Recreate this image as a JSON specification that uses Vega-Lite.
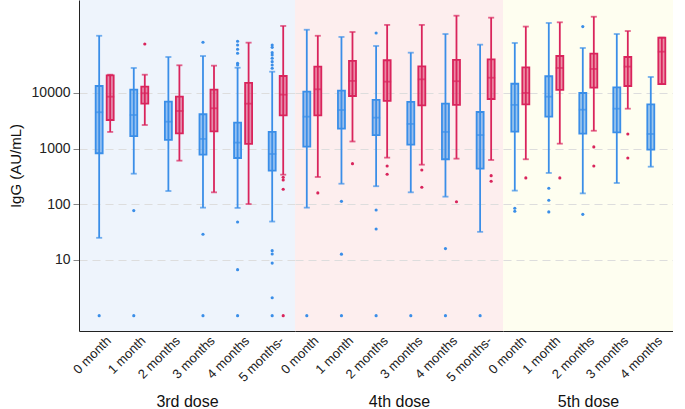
{
  "$schema": "https://vega.github.io/schema/vega-lite/v6.json",
  "padding": {"left": 8, "top": 0, "right": 0, "bottom": 0},
  "spacing": 0,
  "bounds": "flush",
  "config": {
    "font": "Liberation Sans",
    "view": {"stroke": null},
    "axis": {"labelFont": "Liberation Sans", "titleFont": "Liberation Sans", "labelColor": "#222222", "titleColor": "#111111", "titleFontWeight": "normal"}
  },
  "datasets": {
    "stats": [
      {"dose": "3rd dose", "month": "0 month", "group": "Group 1", "min": 25, "q1": 824, "median": 4490, "q3": 13300, "max": 106000},
      {"dose": "3rd dose", "month": "0 month", "group": "Group 2", "min": 1990, "q1": 3260, "median": 8550, "q3": 20700, "max": 21200},
      {"dose": "3rd dose", "month": "1 month", "group": "Group 1", "min": 354, "q1": 1680, "median": 4010, "q3": 11400, "max": 28000},
      {"dose": "3rd dose", "month": "1 month", "group": "Group 2", "min": 2650, "q1": 6400, "median": 9840, "q3": 12900, "max": 21200},
      {"dose": "3rd dose", "month": "2 months", "group": "Group 1", "min": 173, "q1": 1430, "median": 3040, "q3": 6950, "max": 44100},
      {"dose": "3rd dose", "month": "2 months", "group": "Group 2", "min": 607, "q1": 1880, "median": 4730, "q3": 8550, "max": 31300},
      {"dose": "3rd dose", "month": "3 months", "group": "Group 1", "min": 87, "q1": 777, "median": 1490, "q3": 4130, "max": 45900},
      {"dose": "3rd dose", "month": "3 months", "group": "Group 2", "min": 164, "q1": 2040, "median": 5290, "q3": 11400, "max": 30800},
      {"dose": "3rd dose", "month": "4 months", "group": "Group 1", "min": 86, "q1": 678, "median": 1280, "q3": 2920, "max": 28300},
      {"dose": "3rd dose", "month": "4 months", "group": "Group 2", "min": 101, "q1": 1210, "median": 6400, "q3": 15100, "max": 79700},
      {"dose": "3rd dose", "month": "5 months-", "group": "Group 1", "min": 49, "q1": 401, "median": 800, "q3": 1990, "max": 24000},
      {"dose": "3rd dose", "month": "5 months-", "group": "Group 2", "min": 340, "q1": 3960, "median": 9290, "q3": 20100, "max": 159000},
      {"dose": "4th dose", "month": "0 month", "group": "Group 1", "min": 87, "q1": 1080, "median": 3740, "q3": 10500, "max": 136000},
      {"dose": "4th dose", "month": "0 month", "group": "Group 2", "min": 309, "q1": 3960, "median": 11600, "q3": 29500, "max": 106000},
      {"dose": "4th dose", "month": "1 month", "group": "Group 1", "min": 234, "q1": 2280, "median": 4930, "q3": 11000, "max": 101000},
      {"dose": "4th dose", "month": "1 month", "group": "Group 2", "min": 1340, "q1": 8790, "median": 16400, "q3": 37400, "max": 124000},
      {"dose": "4th dose", "month": "2 months", "group": "Group 1", "min": 211, "q1": 1750, "median": 3590, "q3": 7460, "max": 69500},
      {"dose": "4th dose", "month": "2 months", "group": "Group 2", "min": 687, "q1": 7160, "median": 15900, "q3": 38500, "max": 166000},
      {"dose": "4th dose", "month": "3 months", "group": "Group 1", "min": 164, "q1": 1175, "median": 2770, "q3": 6870, "max": 52700},
      {"dose": "4th dose", "month": "3 months", "group": "Group 2", "min": 514, "q1": 5990, "median": 17500, "q3": 30000, "max": 166000},
      {"dose": "4th dose", "month": "4 months", "group": "Group 1", "min": 137, "q1": 643, "median": 1990, "q3": 6400, "max": 114000},
      {"dose": "4th dose", "month": "4 months", "group": "Group 2", "min": 659, "q1": 6070, "median": 16200, "q3": 39000, "max": 243000},
      {"dose": "4th dose", "month": "5 months-", "group": "Group 1", "min": 32, "q1": 436, "median": 1750, "q3": 4540, "max": 73400},
      {"dose": "4th dose", "month": "5 months-", "group": "Group 2", "min": 624, "q1": 7770, "median": 18700, "q3": 40100, "max": 224000},
      {"dose": "5th dose", "month": "0 month", "group": "Group 1", "min": 176, "q1": 2010, "median": 6070, "q3": 14600, "max": 78700},
      {"dose": "5th dose", "month": "0 month", "group": "Group 2", "min": 643, "q1": 6240, "median": 9960, "q3": 28800, "max": 155000},
      {"dose": "5th dose", "month": "1 month", "group": "Group 1", "min": 365, "q1": 3740, "median": 8550, "q3": 19900, "max": 180000},
      {"dose": "5th dose", "month": "1 month", "group": "Group 2", "min": 1225, "q1": 11300, "median": 28000, "q3": 45900, "max": 185000},
      {"dose": "5th dose", "month": "2 months", "group": "Group 1", "min": 157, "q1": 1850, "median": 4990, "q3": 9960, "max": 64000},
      {"dose": "5th dose", "month": "2 months", "group": "Group 2", "min": 2090, "q1": 12400, "median": 26900, "q3": 50600, "max": 233000},
      {"dose": "5th dose", "month": "3 months", "group": "Group 1", "min": 241, "q1": 1960, "median": 5200, "q3": 12600, "max": 114000},
      {"dose": "5th dose", "month": "3 months", "group": "Group 2", "min": 5200, "q1": 13300, "median": 29500, "q3": 44100, "max": 129000},
      {"dose": "5th dose", "month": "4 months", "group": "Group 1", "min": 473, "q1": 955, "median": 1830, "q3": 6240, "max": 19300},
      {"dose": "5th dose", "month": "4 months", "group": "Group 2", "min": 14400, "q1": 14400, "median": 54900, "q3": 98000, "max": 98000}
    ],
    "outliers": [
      {"dose": "3rd dose", "month": "0 month", "group": "Group 1", "value": 1},
      {"dose": "3rd dose", "month": "1 month", "group": "Group 1", "value": 77},
      {"dose": "3rd dose", "month": "1 month", "group": "Group 1", "value": 1},
      {"dose": "3rd dose", "month": "1 month", "group": "Group 2", "value": 75500},
      {"dose": "3rd dose", "month": "3 months", "group": "Group 1", "value": 81000},
      {"dose": "3rd dose", "month": "3 months", "group": "Group 1", "value": 29},
      {"dose": "3rd dose", "month": "3 months", "group": "Group 1", "value": 1},
      {"dose": "3rd dose", "month": "4 months", "group": "Group 1", "value": 84400},
      {"dose": "3rd dose", "month": "4 months", "group": "Group 1", "value": 72400},
      {"dose": "3rd dose", "month": "4 months", "group": "Group 1", "value": 60700},
      {"dose": "3rd dose", "month": "4 months", "group": "Group 1", "value": 51400},
      {"dose": "3rd dose", "month": "4 months", "group": "Group 1", "value": 34000},
      {"dose": "3rd dose", "month": "4 months", "group": "Group 1", "value": 31700},
      {"dose": "3rd dose", "month": "4 months", "group": "Group 1", "value": 48},
      {"dose": "3rd dose", "month": "4 months", "group": "Group 1", "value": 6.7},
      {"dose": "3rd dose", "month": "4 months", "group": "Group 1", "value": 1},
      {"dose": "3rd dose", "month": "5 months-", "group": "Group 1", "value": 72400},
      {"dose": "3rd dose", "month": "5 months-", "group": "Group 1", "value": 65800},
      {"dose": "3rd dose", "month": "5 months-", "group": "Group 1", "value": 52700},
      {"dose": "3rd dose", "month": "5 months-", "group": "Group 1", "value": 47900},
      {"dose": "3rd dose", "month": "5 months-", "group": "Group 1", "value": 41800},
      {"dose": "3rd dose", "month": "5 months-", "group": "Group 1", "value": 36400},
      {"dose": "3rd dose", "month": "5 months-", "group": "Group 1", "value": 31700},
      {"dose": "3rd dose", "month": "5 months-", "group": "Group 1", "value": 27700},
      {"dose": "3rd dose", "month": "5 months-", "group": "Group 1", "value": 14.7},
      {"dose": "3rd dose", "month": "5 months-", "group": "Group 1", "value": 12.8},
      {"dose": "3rd dose", "month": "5 months-", "group": "Group 1", "value": 8.8},
      {"dose": "3rd dose", "month": "5 months-", "group": "Group 1", "value": 2.1},
      {"dose": "3rd dose", "month": "5 months-", "group": "Group 1", "value": 1},
      {"dose": "3rd dose", "month": "5 months-", "group": "Group 2", "value": 305},
      {"dose": "3rd dose", "month": "5 months-", "group": "Group 2", "value": 273},
      {"dose": "3rd dose", "month": "5 months-", "group": "Group 2", "value": 186},
      {"dose": "3rd dose", "month": "5 months-", "group": "Group 2", "value": 1},
      {"dose": "4th dose", "month": "0 month", "group": "Group 1", "value": 1},
      {"dose": "4th dose", "month": "0 month", "group": "Group 2", "value": 160},
      {"dose": "4th dose", "month": "1 month", "group": "Group 1", "value": 113},
      {"dose": "4th dose", "month": "1 month", "group": "Group 1", "value": 12.7},
      {"dose": "4th dose", "month": "1 month", "group": "Group 1", "value": 1},
      {"dose": "4th dose", "month": "1 month", "group": "Group 2", "value": 536},
      {"dose": "4th dose", "month": "2 months", "group": "Group 1", "value": 119000},
      {"dose": "4th dose", "month": "2 months", "group": "Group 1", "value": 79},
      {"dose": "4th dose", "month": "2 months", "group": "Group 1", "value": 36},
      {"dose": "4th dose", "month": "2 months", "group": "Group 1", "value": 1},
      {"dose": "4th dose", "month": "2 months", "group": "Group 2", "value": 487},
      {"dose": "4th dose", "month": "2 months", "group": "Group 2", "value": 346},
      {"dose": "4th dose", "month": "3 months", "group": "Group 1", "value": 1},
      {"dose": "4th dose", "month": "3 months", "group": "Group 2", "value": 413},
      {"dose": "4th dose", "month": "3 months", "group": "Group 2", "value": 202},
      {"dose": "4th dose", "month": "4 months", "group": "Group 1", "value": 16},
      {"dose": "4th dose", "month": "4 months", "group": "Group 1", "value": 1},
      {"dose": "4th dose", "month": "4 months", "group": "Group 2", "value": 111},
      {"dose": "4th dose", "month": "5 months-", "group": "Group 1", "value": 1},
      {"dose": "4th dose", "month": "5 months-", "group": "Group 2", "value": 326},
      {"dose": "4th dose", "month": "5 months-", "group": "Group 2", "value": 259},
      {"dose": "5th dose", "month": "0 month", "group": "Group 1", "value": 85},
      {"dose": "5th dose", "month": "0 month", "group": "Group 1", "value": 75},
      {"dose": "5th dose", "month": "0 month", "group": "Group 2", "value": 297},
      {"dose": "5th dose", "month": "1 month", "group": "Group 1", "value": 194},
      {"dose": "5th dose", "month": "1 month", "group": "Group 1", "value": 118},
      {"dose": "5th dose", "month": "1 month", "group": "Group 1", "value": 73},
      {"dose": "5th dose", "month": "1 month", "group": "Group 2", "value": 297},
      {"dose": "5th dose", "month": "2 months", "group": "Group 1", "value": 155000},
      {"dose": "5th dose", "month": "2 months", "group": "Group 1", "value": 66},
      {"dose": "5th dose", "month": "2 months", "group": "Group 2", "value": 1070},
      {"dose": "5th dose", "month": "2 months", "group": "Group 2", "value": 487},
      {"dose": "5th dose", "month": "3 months", "group": "Group 2", "value": 1830},
      {"dose": "5th dose", "month": "3 months", "group": "Group 2", "value": 678}
    ]
  },
  "hconcat": [
    {
      "width": 216, "height": 331,
      "view": {"fill": "#eef4fc", "stroke": null},
      "encoding": {
        "x": {"field": "month", "type": "nominal", "title": "3rd dose",
              "scale": {"domain": ["0 month", "1 month", "2 months", "3 months", "4 months", "5 months-"], "paddingInner": 0, "paddingOuter": 0.121, "align": 1},
              "axis": {"labelAngle": -45, "labelFontSize": 13, "ticks": false, "domainColor": "#222222", "labelPadding": 3, "titleFontSize": 16, "titleY": 75, "titleBaseline": "alphabetic", "grid": false}},
        "xOffset": {"field": "group", "type": "nominal", "scale": {"domain": ["Group 1", "Group 2"], "paddingInner": 0, "paddingOuter": 0.57}}
      },
      "layer": [
        {"data": {"name": "stats"}, "transform": [{"filter": "datum.dose === '3rd dose'"}],
         "mark": {"type": "rule", "strokeWidth": 1.8},
         "encoding": {
           "y": {"field": "min", "type": "quantitative", "title": "IgG (AU/mL)",
                 "scale": {"type": "log", "domain": [0.531, 465000], "nice": false},
                 "axis": {"values": [10, 100, 1000, 10000], "format": "d", "labelFontSize": 14, "tickSize": 6, "tickColor": "#888888", "labelPadding": 3, "domainColor": "#222222", "titleFontSize": 15, "titlePadding": 8, "gridColor": "#dddddd", "gridDash": [8, 5], "gridWidth": 1}},
           "y2": {"field": "max"},
           "color": {"field": "group", "type": "nominal", "scale": {"domain": ["Group 1", "Group 2"], "range": ["#3a8ee8", "#d9245c"]}, "legend": null}}},
        {"data": {"name": "stats"}, "transform": [{"filter": "datum.dose === '3rd dose'"}],
         "mark": {"type": "tick", "size": 6, "thickness": 1.8},
         "encoding": {"y": {"field": "max", "type": "quantitative", "title": "IgG (AU/mL)"}, "color": {"field": "group", "type": "nominal", "legend": null}}},
        {"data": {"name": "stats"}, "transform": [{"filter": "datum.dose === '3rd dose'"}],
         "mark": {"type": "tick", "size": 6, "thickness": 1.8},
         "encoding": {"y": {"field": "min", "type": "quantitative", "title": "IgG (AU/mL)"}, "color": {"field": "group", "type": "nominal", "legend": null}}},
        {"data": {"name": "stats"}, "transform": [{"filter": "datum.dose === '3rd dose'"}],
         "mark": {"type": "bar", "width": 7, "fillOpacity": 0.5, "strokeWidth": 1.8},
         "encoding": {"y": {"field": "q1", "type": "quantitative", "title": "IgG (AU/mL)"}, "y2": {"field": "q3"},
                      "color": {"field": "group", "type": "nominal", "legend": null},
                      "stroke": {"field": "group", "type": "nominal", "scale": {"domain": ["Group 1", "Group 2"], "range": ["#3a8ee8", "#d9245c"]}, "legend": null}}},
        {"data": {"name": "stats"}, "transform": [{"filter": "datum.dose === '3rd dose'"}],
         "mark": {"type": "tick", "size": 8, "thickness": 1.8},
         "encoding": {"y": {"field": "median", "type": "quantitative", "title": "IgG (AU/mL)"}, "color": {"field": "group", "type": "nominal", "legend": null}}},
        {"data": {"name": "outliers"}, "transform": [{"filter": "datum.dose === '3rd dose'"}],
         "mark": {"type": "circle", "size": 10, "opacity": 1},
         "encoding": {"y": {"field": "value", "type": "quantitative", "title": "IgG (AU/mL)"}, "color": {"field": "group", "type": "nominal", "legend": null}}}
      ]
    },
    {
      "width": 208, "height": 331,
      "view": {"fill": "#fdeeee", "stroke": null},
      "encoding": {
        "x": {"field": "month", "type": "nominal", "title": "4th dose",
              "scale": {"domain": ["0 month", "1 month", "2 months", "3 months", "4 months", "5 months-"], "paddingInner": 0, "paddingOuter": 0},
              "axis": {"labelAngle": -45, "labelFontSize": 13, "ticks": false, "domainColor": "#222222", "labelPadding": 3, "titleFontSize": 16, "titleY": 75, "titleBaseline": "alphabetic", "grid": false}},
        "xOffset": {"field": "group", "type": "nominal", "scale": {"domain": ["Group 1", "Group 2"], "paddingInner": 0, "paddingOuter": 0.57}}
      },
      "layer": [
        {"data": {"name": "stats"}, "transform": [{"filter": "datum.dose === '4th dose'"}],
         "mark": {"type": "rule", "strokeWidth": 1.8},
         "encoding": {
           "y": {"field": "min", "type": "quantitative", "title": null,
                 "scale": {"type": "log", "domain": [0.531, 465000], "nice": false},
                 "axis": {"values": [10, 100, 1000, 10000], "labels": false, "ticks": false, "domain": false, "gridColor": "#dddddd", "gridDash": [8, 5], "gridWidth": 1}},
           "y2": {"field": "max"},
           "color": {"field": "group", "type": "nominal", "scale": {"domain": ["Group 1", "Group 2"], "range": ["#3a8ee8", "#d9245c"]}, "legend": null}}},
        {"data": {"name": "stats"}, "transform": [{"filter": "datum.dose === '4th dose'"}],
         "mark": {"type": "tick", "size": 6, "thickness": 1.8},
         "encoding": {"y": {"field": "max", "type": "quantitative", "title": null}, "color": {"field": "group", "type": "nominal", "legend": null}}},
        {"data": {"name": "stats"}, "transform": [{"filter": "datum.dose === '4th dose'"}],
         "mark": {"type": "tick", "size": 6, "thickness": 1.8},
         "encoding": {"y": {"field": "min", "type": "quantitative", "title": null}, "color": {"field": "group", "type": "nominal", "legend": null}}},
        {"data": {"name": "stats"}, "transform": [{"filter": "datum.dose === '4th dose'"}],
         "mark": {"type": "bar", "width": 7, "fillOpacity": 0.5, "strokeWidth": 1.8},
         "encoding": {"y": {"field": "q1", "type": "quantitative", "title": null}, "y2": {"field": "q3"},
                      "color": {"field": "group", "type": "nominal", "legend": null},
                      "stroke": {"field": "group", "type": "nominal", "scale": {"domain": ["Group 1", "Group 2"], "range": ["#3a8ee8", "#d9245c"]}, "legend": null}}},
        {"data": {"name": "stats"}, "transform": [{"filter": "datum.dose === '4th dose'"}],
         "mark": {"type": "tick", "size": 8, "thickness": 1.8},
         "encoding": {"y": {"field": "median", "type": "quantitative", "title": null}, "color": {"field": "group", "type": "nominal", "legend": null}}},
        {"data": {"name": "outliers"}, "transform": [{"filter": "datum.dose === '4th dose'"}],
         "mark": {"type": "circle", "size": 10, "opacity": 1},
         "encoding": {"y": {"field": "value", "type": "quantitative", "title": null}, "color": {"field": "group", "type": "nominal", "legend": null}}}
      ]
    },
    {
      "width": 170, "height": 331,
      "view": {"fill": "#fefef0", "stroke": null},
      "encoding": {
        "x": {"field": "month", "type": "nominal", "title": "5th dose",
              "scale": {"domain": ["0 month", "1 month", "2 months", "3 months", "4 months"], "paddingInner": 0, "paddingOuter": 0},
              "axis": {"labelAngle": -45, "labelFontSize": 13, "ticks": false, "domainColor": "#222222", "labelPadding": 3, "titleFontSize": 16, "titleY": 75, "titleBaseline": "alphabetic", "grid": false}},
        "xOffset": {"field": "group", "type": "nominal", "scale": {"domain": ["Group 1", "Group 2"], "paddingInner": 0, "paddingOuter": 0.57}}
      },
      "layer": [
        {"data": {"name": "stats"}, "transform": [{"filter": "datum.dose === '5th dose'"}],
         "mark": {"type": "rule", "strokeWidth": 1.8},
         "encoding": {
           "y": {"field": "min", "type": "quantitative", "title": null,
                 "scale": {"type": "log", "domain": [0.531, 465000], "nice": false},
                 "axis": {"values": [10, 100, 1000, 10000], "labels": false, "ticks": false, "domain": false, "gridColor": "#dddddd", "gridDash": [8, 5], "gridWidth": 1}},
           "y2": {"field": "max"},
           "color": {"field": "group", "type": "nominal", "scale": {"domain": ["Group 1", "Group 2"], "range": ["#3a8ee8", "#d9245c"]}, "legend": null}}},
        {"data": {"name": "stats"}, "transform": [{"filter": "datum.dose === '5th dose'"}],
         "mark": {"type": "tick", "size": 6, "thickness": 1.8},
         "encoding": {"y": {"field": "max", "type": "quantitative", "title": null}, "color": {"field": "group", "type": "nominal", "legend": null}}},
        {"data": {"name": "stats"}, "transform": [{"filter": "datum.dose === '5th dose'"}],
         "mark": {"type": "tick", "size": 6, "thickness": 1.8},
         "encoding": {"y": {"field": "min", "type": "quantitative", "title": null}, "color": {"field": "group", "type": "nominal", "legend": null}}},
        {"data": {"name": "stats"}, "transform": [{"filter": "datum.dose === '5th dose'"}],
         "mark": {"type": "bar", "width": 7, "fillOpacity": 0.5, "strokeWidth": 1.8},
         "encoding": {"y": {"field": "q1", "type": "quantitative", "title": null}, "y2": {"field": "q3"},
                      "color": {"field": "group", "type": "nominal", "legend": null},
                      "stroke": {"field": "group", "type": "nominal", "scale": {"domain": ["Group 1", "Group 2"], "range": ["#3a8ee8", "#d9245c"]}, "legend": null}}},
        {"data": {"name": "stats"}, "transform": [{"filter": "datum.dose === '5th dose'"}],
         "mark": {"type": "tick", "size": 8, "thickness": 1.8},
         "encoding": {"y": {"field": "median", "type": "quantitative", "title": null}, "color": {"field": "group", "type": "nominal", "legend": null}}},
        {"data": {"name": "outliers"}, "transform": [{"filter": "datum.dose === '5th dose'"}],
         "mark": {"type": "circle", "size": 10, "opacity": 1},
         "encoding": {"y": {"field": "value", "type": "quantitative", "title": null}, "color": {"field": "group", "type": "nominal", "legend": null}}}
      ]
    }
  ]
}
